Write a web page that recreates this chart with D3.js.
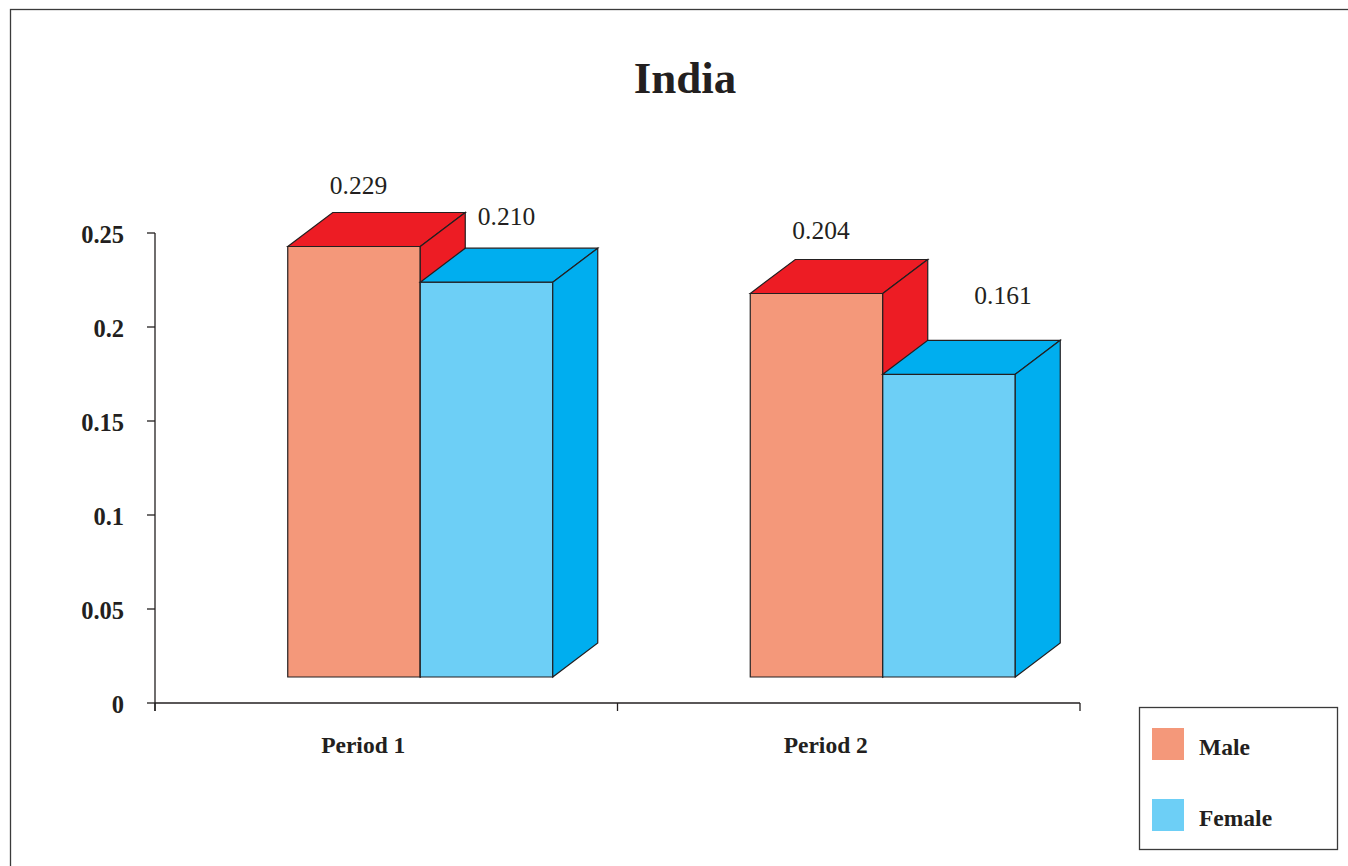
<!DOCTYPE html>
<html>
<head>
<meta charset="utf-8">
<script src="https://cdn.jsdelivr.net/npm/d3@7/dist/d3.min.js"></script>
<style>
  html, body { margin: 0; padding: 0; background: #fff; }
  svg { display: block; }
  text { font-family: "Liberation Serif", "DejaVu Serif", serif; fill: #231f20; }
</style>
</head>
<body>
<svg id="chart" width="1348" height="866"></svg>
<script>
// Data
const title = "India";
const periods = ["Period 1", "Period 2"];
const seriesNames = ["Male", "Female"];
const maleValues = [0.229, 0.204];
const femaleValues = [0.210, 0.161];
const valueLabels = [["0.229", "0.204"], ["0.210", "0.161"]];
const yTicks = [0, 0.05, 0.1, 0.15, 0.2, 0.25];
const yTickLabels = ["0", "0.05", "0.1", "0.15", "0.2", "0.25"];

const seriesValues = [maleValues, femaleValues];

// Face colours: front, top/side
const frontColors = ["#f4987a", "#6dcff6"];
const shadeColors = ["#ed1c24", "#00aeef"];

const svg = d3.select("#chart");

// Outer frame
svg.append("rect")
  .attr("x", 10.5).attr("y", 9.5)
  .attr("width", 1400).attr("height", 900)
  .attr("fill", "none").attr("stroke", "#3a3a3a").attr("stroke-width", 1.3);

// Plot area
const plotLeft = 155, plotRight = 1080, plotTop = 233, plotBottom = 703;

const y = d3.scaleLinear().domain([0, 0.25]).range([plotBottom, plotTop]);
const x = d3.scaleBand().domain(periods).range([plotLeft, plotRight]).padding(0);

// 3D geometry
const groupWidth = 265;
const depthX = 45, depthY = -34;   // receding offset of top/side faces
const floorLift = 26;              // front faces sit above the axis line
const groupShift = 34;             // front faces shifted right of band centre
const inner = d3.scaleBand().domain(seriesNames).range([0, groupWidth]).padding(0);

// Title
svg.append("text")
  .attr("x", 685).attr("y", 93)
  .attr("text-anchor", "middle")
  .attr("font-size", 45).attr("font-weight", "bold")
  .text(title);

// Y axis
const yAxis = svg.append("g");
yAxis.append("line")
  .attr("x1", plotLeft).attr("x2", plotLeft)
  .attr("y1", y(0.25)).attr("y2", y(0) + 8)
  .attr("stroke", "#231f20").attr("stroke-width", 1.3);
yAxis.selectAll("line.tick").data(yTicks).join("line")
  .attr("class", "tick")
  .attr("x1", plotLeft - 8).attr("x2", plotLeft)
  .attr("y1", d => y(d)).attr("y2", d => y(d))
  .attr("stroke", "#231f20").attr("stroke-width", 1.3);
yAxis.selectAll("text").data(yTicks).join("text")
  .attr("x", 124).attr("y", d => y(d) + 10)
  .attr("text-anchor", "end")
  .attr("font-size", 24.5).attr("font-weight", "bold")
  .text((d, i) => yTickLabels[i]);

// X axis
const xAxis = svg.append("g");
xAxis.append("line")
  .attr("x1", plotLeft).attr("x2", plotRight)
  .attr("y1", y(0)).attr("y2", y(0))
  .attr("stroke", "#231f20").attr("stroke-width", 1.3);
const xTickPos = periods.map(p => x(p)).concat([x(periods[periods.length - 1]) + x.bandwidth()]);
xAxis.selectAll("line.tick").data(xTickPos).join("line")
  .attr("class", "tick")
  .attr("x1", d => d).attr("x2", d => d)
  .attr("y1", y(0)).attr("y2", y(0) + 8)
  .attr("stroke", "#231f20").attr("stroke-width", 1.3);
xAxis.selectAll("text").data(periods).join("text")
  .attr("x", d => x(d) + x.bandwidth() / 2 - 23)
  .attr("y", 753)
  .attr("text-anchor", "middle")
  .attr("font-size", 23.5).attr("font-weight", "bold")
  .text(d => d);

// Bars
const bars = [];
periods.forEach((p, pi) => {
  seriesNames.forEach((s, si) => {
    const v = seriesValues[si][pi];
    const x0 = x(p) + x.bandwidth() / 2 - groupWidth / 2 + groupShift + inner(s);
    const x1 = x0 + inner.bandwidth();
    const top = y(v) - floorLift;
    const bottom = y(0) - floorLift;
    bars.push({ p, pi, s, si, v, x0, x1, top, bottom });
  });
});

const line = d3.line();
const barG = svg.append("g")
  .attr("stroke", "#231f20").attr("stroke-width", 1.2).attr("stroke-linejoin", "miter");

bars.forEach(b => {
  const g = barG.append("g");
  // front face
  g.append("path")
    .attr("d", line([[b.x0, b.top], [b.x1, b.top], [b.x1, b.bottom], [b.x0, b.bottom]]) + "Z")
    .attr("fill", frontColors[b.si]);
  // top face
  g.append("path")
    .attr("d", line([[b.x0, b.top], [b.x0 + depthX, b.top + depthY], [b.x1 + depthX, b.top + depthY], [b.x1, b.top]]) + "Z")
    .attr("fill", shadeColors[b.si]);
  // side face
  g.append("path")
    .attr("d", line([[b.x1, b.top], [b.x1 + depthX, b.top + depthY], [b.x1 + depthX, b.bottom + depthY], [b.x1, b.bottom]]) + "Z")
    .attr("fill", shadeColors[b.si]);
});

// Value labels, nudged per bar around the top of the block
const labelNudge = [[[4.5, -52], [4.5, -54.5]], [[20, -57], [54, -70]]];
svg.append("g").selectAll("text").data(bars).join("text")
  .attr("x", b => (b.x0 + b.x1) / 2 + labelNudge[b.si][b.pi][0])
  .attr("y", b => b.top + labelNudge[b.si][b.pi][1])
  .attr("text-anchor", "middle")
  .attr("font-size", 25.5)
  .text(b => valueLabels[b.si][b.pi]);

// Legend
const legend = svg.append("g");
legend.append("rect")
  .attr("x", 1139.5).attr("y", 707.5).attr("width", 198).attr("height", 142)
  .attr("fill", "#fff").attr("stroke", "#3a3a3a").attr("stroke-width", 1.3);
const legendRows = legend.selectAll("g").data(seriesNames).join("g")
  .attr("transform", (d, i) => `translate(1152, ${728 + i * 71})`);
legendRows.append("rect")
  .attr("width", 32).attr("height", 32)
  .attr("fill", (d, i) => frontColors[i]);
legendRows.append("text")
  .attr("x", 47).attr("y", 27)
  .attr("font-size", 23.5).attr("font-weight", "bold")
  .text(d => d);
</script>
</body>
</html>
